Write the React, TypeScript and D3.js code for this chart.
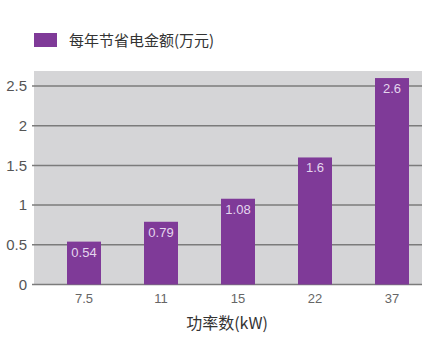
import * as d3 from 'd3';
import { useEffect, useRef } from 'react';

const powers = ['7.5', '11', '15', '22', '37'];
const savings = [0.54, 0.79, 1.08, 1.6, 2.6];
const valueLabels = ['0.54', '0.79', '1.08', '1.6', '2.6'];
const yTicks = [0, 0.5, 1, 1.5, 2, 2.5];
const legendLabel = '每年节省电金额(万元)';
const xTitle = '功率数(kW)';

const W = 435;
const H = 352;
const plot = { left: 34, right: 422, top: 71, bottom: 285 };
const barColor = '#7f3a98';
const cjk = '"Noto Sans CJK SC", "Noto Sans", sans-serif';
const latin = '"Liberation Sans", Arial, sans-serif';

export default function App() {
  const ref = useRef<SVGSVGElement>(null);

  useEffect(() => {
    const svg = d3.select(ref.current);
    svg.selectAll('*').remove();

    const x = d3
      .scalePoint<string>()
      .domain(powers)
      .range([plot.left + 50, plot.right - 30]);

    const y = d3.scaleLinear().domain([0, 2.5]).range([plot.bottom - 0.5, 86]);
    const barW = 34;

    // legend
    svg
      .append('rect')
      .attr('x', 34)
      .attr('y', 33)
      .attr('width', 23)
      .attr('height', 14)
      .attr('fill', barColor);
    svg
      .append('text')
      .attr('x', 69)
      .attr('y', 46)
      .style('font-family', cjk)
      .style('font-size', '15px')
      .attr('fill', '#333')
      .text(legendLabel);

    // plot background
    svg
      .append('rect')
      .attr('x', plot.left)
      .attr('y', plot.top)
      .attr('width', plot.right - plot.left)
      .attr('height', plot.bottom - plot.top)
      .attr('fill', '#d5d5d7');

    // grid + y labels
    const grid = svg.append('g');
    grid
      .selectAll('line')
      .data(yTicks)
      .enter()
      .append('line')
      .attr('x1', plot.left - 2)
      .attr('x2', plot.right)
      .attr('y1', (d) => y(d))
      .attr('y2', (d) => y(d))
      .attr('stroke', '#7b7b7b')
      .attr('stroke-width', 1.5);
    grid
      .selectAll('text')
      .data(yTicks)
      .enter()
      .append('text')
      .attr('x', 27)
      .attr('y', (d) => y(d))
      .attr('dy', '0.35em')
      .attr('text-anchor', 'end')
      .style('font-family', latin)
      .style('font-size', '15px')
      .attr('fill', '#555')
      .text((d) => String(d));

    // bars
    svg
      .selectAll('.bar')
      .data(savings)
      .enter()
      .append('rect')
      .attr('class', 'bar')
      .attr('x', (_d, i) => x(powers[i])! - barW / 2)
      .attr('y', (d) => y(d))
      .attr('width', barW)
      .attr('height', (d) => y(0) - y(d))
      .attr('fill', barColor);

    svg
      .selectAll('.val')
      .data(savings)
      .enter()
      .append('text')
      .attr('class', 'val')
      .attr('x', (_d, i) => x(powers[i])!)
      .attr('y', (d) => y(d) + 15)
      .attr('text-anchor', 'middle')
      .style('font-family', latin)
      .style('font-size', '13px')
      .attr('fill', '#e4d6ee')
      .text((_d, i) => valueLabels[i]);

    // x labels
    svg
      .selectAll('.xl')
      .data(powers)
      .enter()
      .append('text')
      .attr('class', 'xl')
      .attr('x', (d) => x(d)!)
      .attr('y', plot.bottom + 18)
      .attr('text-anchor', 'middle')
      .style('font-family', latin)
      .style('font-size', '13px')
      .attr('fill', '#666')
      .text((d) => d);

    svg
      .append('text')
      .attr('x', 227)
      .attr('y', 329)
      .attr('text-anchor', 'middle')
      .style('font-family', cjk)
      .style('font-size', '16px')
      .attr('fill', '#333')
      .text(xTitle);
  }, []);

  return (
    <svg
      ref={ref}
      width={W}
      height={H}
      style={{ position: 'absolute', left: 0, top: 0, background: '#fff' }}
    />
  );
}
